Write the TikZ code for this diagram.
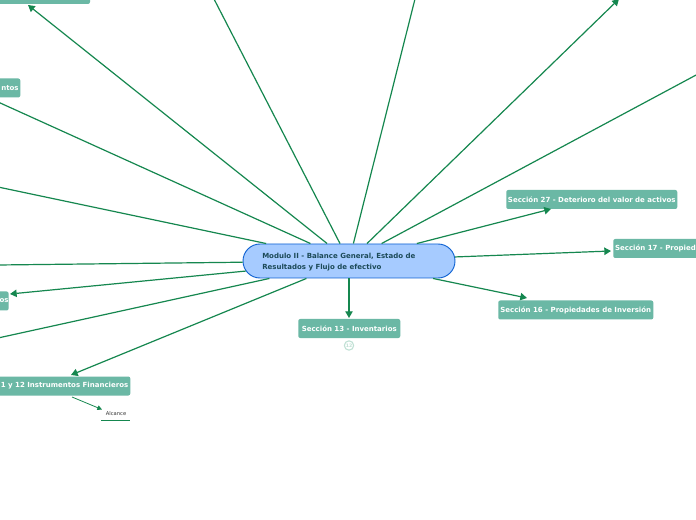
\documentclass[tikz,border=0pt]{standalone}
\usepackage{fontspec}
\setmainfont{DejaVu Sans}
\usetikzlibrary{arrows.meta,shapes.misc}
\definecolor{linegreen}{HTML}{15874F}
\definecolor{boxgreen}{HTML}{6BB8A5}
\definecolor{mainfill}{HTML}{A6CBFF}
\definecolor{mainedge}{HTML}{0F62D2}
\definecolor{maintext}{HTML}{1C4A58}
\definecolor{badge}{HTML}{BFE0D4}
\newcommand{\tptext}[2]{\hspace*{#1}\raisebox{-0.4pt}{#2}}
\tikzset{
  x=0.75pt,y=-0.75pt,
  conn/.style={draw=linegreen,line width=0.9pt},
  arrowconn/.style={conn,-{Triangle[length=5pt,width=5.5pt]}},
  smallarrow/.style={draw=linegreen,line width=0.6pt,-{Triangle[length=3.5pt,width=3.5pt]}},
  topic/.style={fill=boxgreen,rounded corners=1.5pt,text=white,font=\bfseries\fontsize{5.25pt}{6pt}\selectfont,inner sep=0pt,minimum height=14.25pt,anchor=west},
  mainnode/.style={draw=mainedge,fill=mainfill,line width=0.7pt,rounded rectangle,minimum width=159pt,minimum height=25.5pt,inner sep=0pt},
  maintextstyle/.style={text=maintext,font=\bfseries\fontsize{5.26pt}{8.6pt}\selectfont,align=left,anchor=west,inner sep=0pt}
}
\begin{document}
\begin{tikzpicture}
\useasboundingbox (0,0) rectangle (696,520);
\clip (0,0) rectangle (696,520);
\fill[white] (0,0) rectangle (696,520);
% free ends
\coordinate (a1) at (28,5);
\coordinate (a2) at (-2,102);
\coordinate (a3) at (-2,187);
\coordinate (a4) at (-2,265);
\coordinate (a5) at (-2,338);
\coordinate (a6) at (214,-1);
\coordinate (a7) at (415,-1);
\coordinate (a8) at (619,-1);
\coordinate (a9) at (698,74);
\coordinate (t5) at (10,294);
\coordinate (t7) at (71,375);
\coordinate (t8) at (349,318);
\coordinate (t9) at (527,298);
\coordinate (t10) at (611,251);
\coordinate (t11) at (551,209);
\coordinate (fa) at (72,397);
% main
\node[mainnode] (main) at (349,261) {};
\node[maintextstyle] (mt) at (262,262.2) {Modulo II - Balance General, Estado de\\Resultados y Flujo de efectivo};
% topics
\fill[boxgreen,rounded corners=1.5pt] (-10,-10) rectangle (90,4);
\node[topic,minimum width=19.5pt] (n2) at (-6,88) {\tptext{4pt}{ntos}};
\node[topic,minimum width=10.5pt] (n5) at (-6,301) {\tptext{4pt}{os}};
\node[topic,minimum width=102pt] (n7) at (-6,386) {\tptext{3.4pt}{1 y 12 Instrumentos Financieros}};
\node[topic,minimum width=76.5pt] (n8) at (298,328.5) {\tptext{0pt}{Sección 13 - Inventarios}};
\node[topic,minimum width=116.25pt] (n9) at (498,310) {\tptext{0pt}{Sección 16 - Propiedades de Inversión}};
\node[topic,minimum width=66pt] (n10) at (613,248.5) {\tptext{-2.7pt}{Sección 17 - Propied}};
\node[topic,minimum width=128.25pt] (n11) at (506,199.5) {\tptext{0pt}{Sección 27 - Deterioro del valor de activos}};
\node[text=black!80,font=\fontsize{3.9pt}{4.5pt}\selectfont,inner sep=0pt] (alc) at (116,414) {Alcance};
\draw[linegreen,line width=0.9pt] (101,420.5) -- (130,420.5);
\node[circle,draw=badge,line width=0.8pt,minimum size=7pt,inner sep=0pt,text=badge,font=\bfseries\fontsize{3.5pt}{4pt}\selectfont] (b) at (349,345.5) {12};
% connectors
\draw[arrowconn] (main) -- (a1);
\draw[conn] (main) -- (a2);
\draw[conn] (main) -- (a3);
\draw[conn] (main) -- (a4);
\draw[conn] (main) -- (a5);
\draw[conn] (main) -- (a6);
\draw[conn] (main) -- (a7);
\draw[arrowconn] (main) -- (a8);
\draw[conn] (main) -- (a9);
\draw[arrowconn] (main) -- (t5);
\draw[arrowconn] (main) -- (t7);
\draw[arrowconn] (main) -- (t8);
\draw[arrowconn] (main) -- (t9);
\draw[arrowconn] (main) -- (t10);
\draw[arrowconn] (main) -- (t11);
\draw[smallarrow] (fa) -- (102,409.5);
\end{tikzpicture}
\end{document}
